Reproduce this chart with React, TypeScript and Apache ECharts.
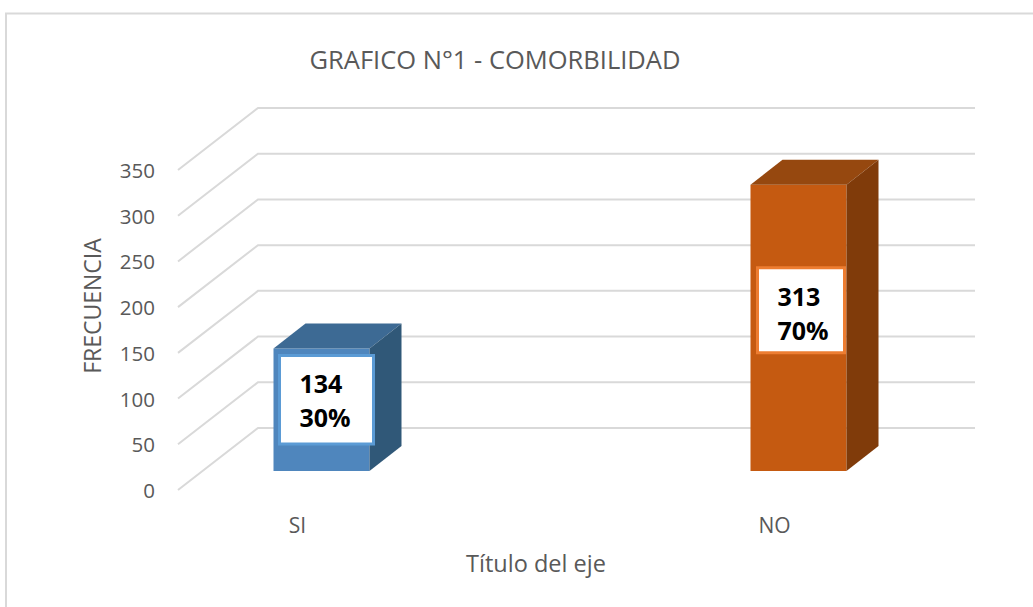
import React, { useEffect, useRef } from "react";
import * as echarts from "echarts";

const title = "GRAFICO N°1 - COMORBILIDAD";
const yTitle = "FRECUENCIA";
const xTitle = "Título del eje";
const categories = ["SI", "NO"];
const frequencies = [134, 313];
const percents = ["30%", "70%"];
const yTicks = [0, 50, 100, 150, 200, 250, 300, 350];

const FONT = "'Open Sans', sans-serif";
const GRAY = "#595959";
const FLOOR_DX = 80, FLOOR_DY = -62, LINE_END = 975;
const BAR_OFF_X = 24, BAR_OFF_Y = -19, BAR_W = 96, DEPTH_X = 32, DEPTH_Y = -25;
const palette = [
  { front: "#4F86BD", top: "#3D6A94", side: "#305878", border: "#5B9BD5" },
  { front: "#C55A11", top: "#96480F", side: "#803B0A", border: "#ED7D31" },
];
const boxes = [
  { dx: 6, dy: 7, w: 94, h: 88.5, pad: 20 },
  { dx: 7, dy: 83, w: 87, h: 85, pad: 20 },
];

export default function App() {
  const ref = useRef<HTMLDivElement>(null);
  useEffect(() => {
    const chart = echarts.init(ref.current!, null, { renderer: "svg" });
    chart.setOption({
      animation: false,
      backgroundColor: "#fff",
      title: {
        text: title, left: 495, top: 46, textAlign: "center",
        textStyle: { fontFamily: FONT, fontSize: 25.5, fontWeight: 400, color: GRAY },
        padding: 0,
      },
      grid: { left: 59, top: 170, width: 954, height: 320 },
      xAxis: {
        type: "category", data: categories,
        axisLine: { show: false }, axisTick: { show: false },
        axisLabel: { fontFamily: FONT, fontSize: 21, color: GRAY, margin: 24 },
        name: xTitle, nameLocation: "middle", nameGap: 61,
        nameTextStyle: { fontFamily: FONT, fontSize: 23.5, color: GRAY },
      },
      yAxis: {
        type: "value", min: 0, max: 350, interval: 50, offset: -119,
        axisLine: { show: false }, axisTick: { show: false }, splitLine: { show: false },
        axisLabel: { fontFamily: FONT, fontSize: 20.5, color: GRAY, margin: 23 },
      },
      graphic: [
        { type: "polyline", shape: { points: [[6, 607], [6, 13.5], [1033, 13.5]] }, style: { stroke: "#D9D9D9", lineWidth: 2, fill: "none" }, silent: true },
        { type: "text", rotation: Math.PI / 2, x: 92, y: 306, style: { text: yTitle, fontFamily: FONT, fontSize: 23, fill: GRAY, align: "center", verticalAlign: "middle" }, silent: true },
      ],
      series: [
        {
          type: "custom", coordinateSystem: "cartesian2d", z: 1, silent: true,
          data: yTicks.map((v) => [0, v]),
          renderItem: (_p: any, api: any) => {
            const y = api.coord([0, api.value(1)])[1];
            return {
              type: "polyline",
              shape: { points: [[178, y], [178 + FLOOR_DX, y + FLOOR_DY], [LINE_END, y + FLOOR_DY]] },
              style: { stroke: "#D9D9D9", lineWidth: 2, fill: "none" },
            };
          },
        },
        {
          type: "custom", coordinateSystem: "cartesian2d", z: 2, silent: true,
          data: frequencies.map((v, i) => [i, v]),
          renderItem: (p: any, api: any) => {
            const i = p.dataIndex;
            const c = palette[i];
            const b = boxes[i];
            const [cx, yv] = api.coord([i, api.value(1)]);
            const y0 = api.coord([i, 0])[1];
            const l = cx + BAR_OFF_X - BAR_W / 2;
            const r = l + BAR_W;
            const t = yv + BAR_OFF_Y;
            const bt = y0 + BAR_OFF_Y;
            const boxTop = t + b.dy;
            const boxL = l + b.dx;
            return {
              type: "group",
              children: [
                { type: "rect", shape: { x: l, y: t, width: BAR_W, height: bt - t }, style: { fill: c.front } },
                { type: "polygon", shape: { points: [[l, t], [l + DEPTH_X, t + DEPTH_Y], [r + DEPTH_X, t + DEPTH_Y], [r, t]] }, style: { fill: c.top } },
                { type: "polygon", shape: { points: [[r, t], [r + DEPTH_X, t + DEPTH_Y], [r + DEPTH_X, bt + DEPTH_Y], [r, bt]] }, style: { fill: c.side } },
                { type: "rect", shape: { x: boxL, y: boxTop, width: b.w, height: b.h }, style: { fill: "#fff", stroke: c.border, lineWidth: 3 } },
                {
                  type: "text", x: boxL + b.pad, y: boxTop + 28,
                  style: { text: String(api.value(1)), fontFamily: FONT, fontSize: 25, fontWeight: 700, fill: "#000", verticalAlign: "middle" },
                },
                {
                  type: "text", x: boxL + b.pad, y: boxTop + 62,
                  style: { text: percents[i], fontFamily: FONT, fontSize: 25, fontWeight: 700, fill: "#000", verticalAlign: "middle" },
                },
              ],
            };
          },
        },
      ],
    });
    return () => chart.dispose();
  }, []);
  return <div ref={ref} style={{ width: 1033, height: 607, position: "absolute", left: 0, top: 0 }} />;
}
